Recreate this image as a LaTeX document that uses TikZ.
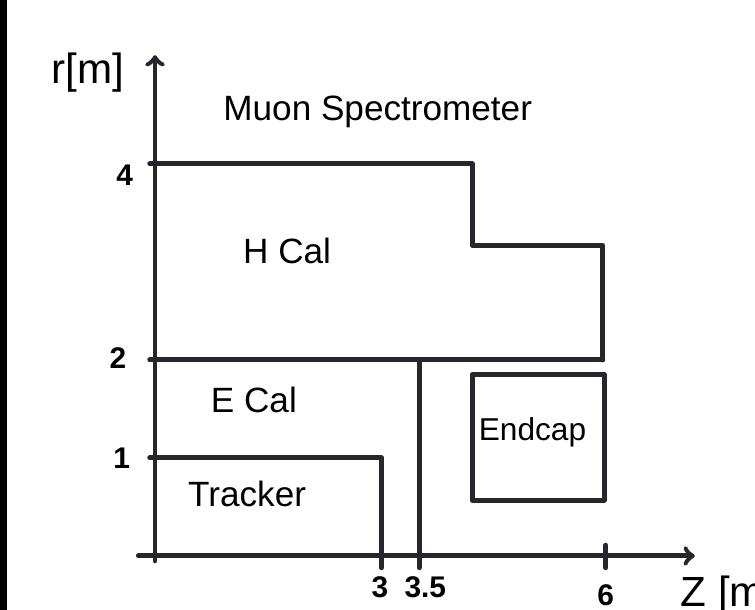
\documentclass[tikz,border=0pt]{standalone}
\usepackage{fontspec}
\setmainfont{Liberation Sans}
\usepackage{tikz}
\usetikzlibrary{arrows}
\definecolor{inkc}{RGB}{38,38,44}

\begin{document}
\begin{tikzpicture}[x=1.51cm,y=1.96cm]
\tikzset{font=\fontsize{20}{24}\selectfont}
\tikzset{ink/.style={line width=2.8pt, draw=inkc, line cap=round, line join=round}}
\tikzset{ticklabel/.style={font=\fontsize{17}{20}\selectfont\bfseries}}
\tikzset{>=to}
\useasboundingbox (-2.053,-0.551) rectangle (7.947,5.673);
\fill[black] (-2.053,-0.551) rectangle (-1.96,5.673);
\coordinate (rbot) at (0,-0.05);
\coordinate (rtop) at (0,5.11);
\coordinate (zbeg) at (-0.22,0);
\coordinate (zend) at (7.15,0);
\draw[ink,->] (rbot) -- (rtop);
\draw[ink,->] (zbeg) -- (zend);
\draw[ink] (-0.07,4) -- (4.2,4) -- (4.2,3.17) -- (5.93,3.17) -- (5.93,2);
\draw[ink] (-0.07,2) -- (5.93,2);
\draw[ink] (-0.07,1) -- (3,1) -- (3,-0.12);
\draw[ink] (3.5,2) -- (3.5,-0.12);
\draw[ink] (4.2,0.57) rectangle (5.95,1.85);
\draw[ink] (5.97,0.11) -- (5.97,-0.12);
\node (rlabel) at (-0.89,4.93) {\fontsize{24}{28}\selectfont r[m]};
\node (muon) at (2.95,4.53) {Muon Spectrometer};
\node (hcal) at (1.75,3.11) {H Cal};
\node (ecal) at (1.31,1.59) {E Cal};
\node (tracker) at (1.22,0.63) {Tracker};
\node (endcap) at (5.0,1.265) {\fontsize{18}{22}\selectfont Endcap};
\node[ticklabel] (t4) at (-0.40,3.88) {4};
\node[ticklabel] (t2) at (-0.49,2.02) {2};
\node[ticklabel] (t1) at (-0.44,1.0) {1};
\node[ticklabel] (t3) at (2.98,-0.32) {3};
\node[ticklabel] (t35) at (3.58,-0.32) {3.5};
\node[ticklabel] (t6) at (5.97,-0.40) {6};
\node[anchor=west] (zlabel) at (6.88,-0.40) {\fontsize{24}{28}\selectfont Z [m]};
\end{tikzpicture}
\end{document}
